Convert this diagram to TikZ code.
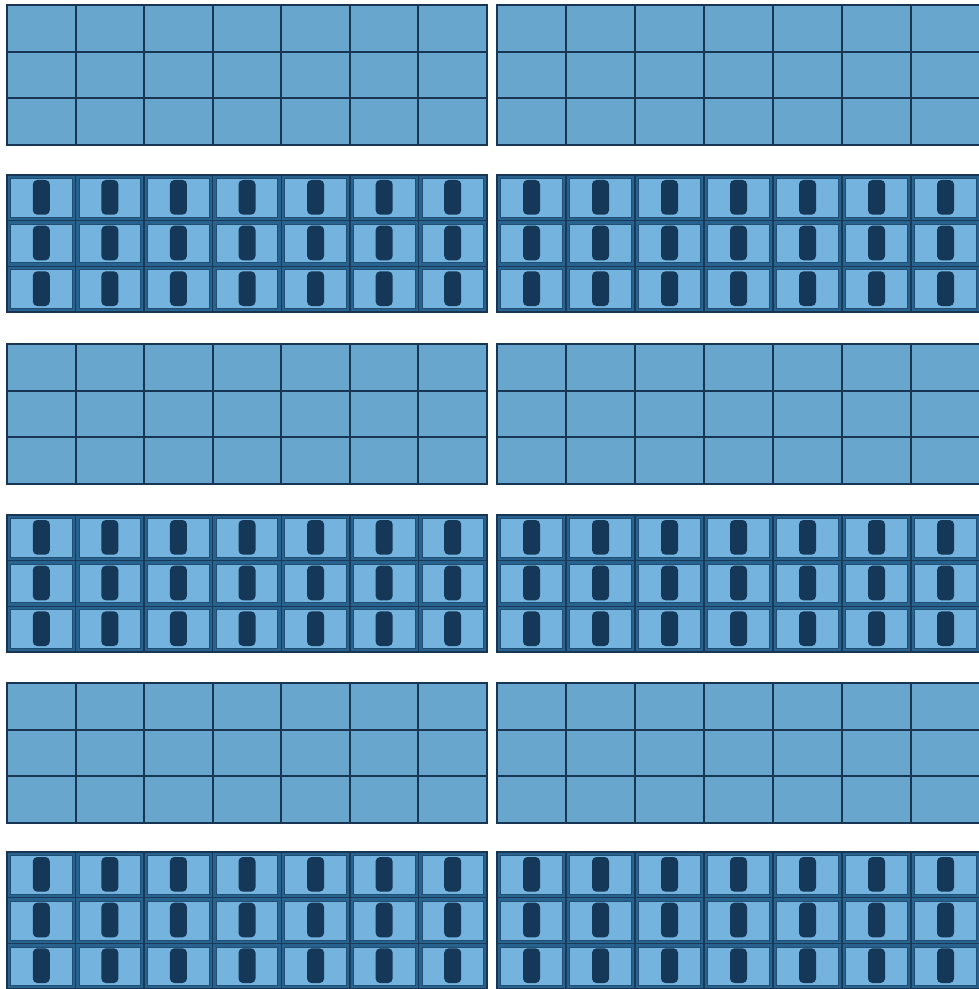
\documentclass[tikz,border=0pt]{standalone}
\usepackage{xcolor}
\definecolor{facade}{RGB}{104,166,205}
\definecolor{mullion}{RGB}{24,54,84}
\definecolor{frame}{RGB}{40,98,142}
\definecolor{pane}{RGB}{116,179,222}
\definecolor{shade}{RGB}{22,56,88}
\begin{document}
\begin{tikzpicture}[
      x=0.2mm, y=-0.2mm,
      plainband/.style={fill=facade, draw=mullion, line width=1.1pt},
      gridline/.style={draw=mullion, line width=1.1pt},
      frameband/.style={fill=frame, draw=mullion, line width=1.4pt},
      panebox/.style={fill=pane, draw=frame!80!black, line width=0.4pt},
      blind/.style={fill=shade, rounded corners=2.5pt},
      divider/.style={draw=mullion!90!frame, line width=0.8pt},
    ]
    \useasboundingbox (0,0) rectangle (979,989);
    \clip (0,0) rectangle (979,989);

    % plain curtain-wall bands
    \foreach \top in {5,344,683} {
      \foreach \xa/\xb in {7/487, 497/980} {
        \pgfmathsetmacro\colw{(\xb-\xa)/7}
        \path[plainband] (\xa,\top) rectangle (\xb,\top+140);
        \foreach \i in {1,...,6}
          \draw[gridline] (\xa+\i*\colw,\top) -- ++(0,140);
        \foreach \j in {1,2}
          \draw[gridline] (\xa,\top+\j*46.7) -- (\xb,\top+\j*46.7);
      }
    }

    % window bands
    \foreach \top in {175,515,852} {
      \foreach \xa/\xb in {7/487, 497/980} {
        \pgfmathsetmacro\colw{(\xb-\xa)/7}
        \path[frameband] (\xa,\top) rectangle (\xb,\top+137);
        \foreach \c in {0,...,6} {
          \foreach \r in {0,1,2} {
            \pgfmathsetmacro\cx{\xa+\c*\colw}
            \pgfmathsetmacro\cy{\top+\r*45.67}
            \path[panebox] (\cx+3.5,\cy+3.5) rectangle (\cx+\colw-3.5,\cy+45.67-3.5);
            \path[blind] (\cx+\colw/2-8.5,\cy+5) rectangle (\cx+\colw/2+8.5,\cy+45.67-6);
          }
        }
        \foreach \i in {1,...,6}
          \draw[divider] (\xa+\i*\colw,\top) -- ++(0,137);
        \foreach \j in {1,2}
          \draw[divider] (\xa,\top+\j*45.67) -- (\xb,\top+\j*45.67);
        \draw[mullion, line width=1.4pt] (\xa,\top) rectangle (\xb,\top+137);
      }
    }
\end{tikzpicture}
\end{document}
